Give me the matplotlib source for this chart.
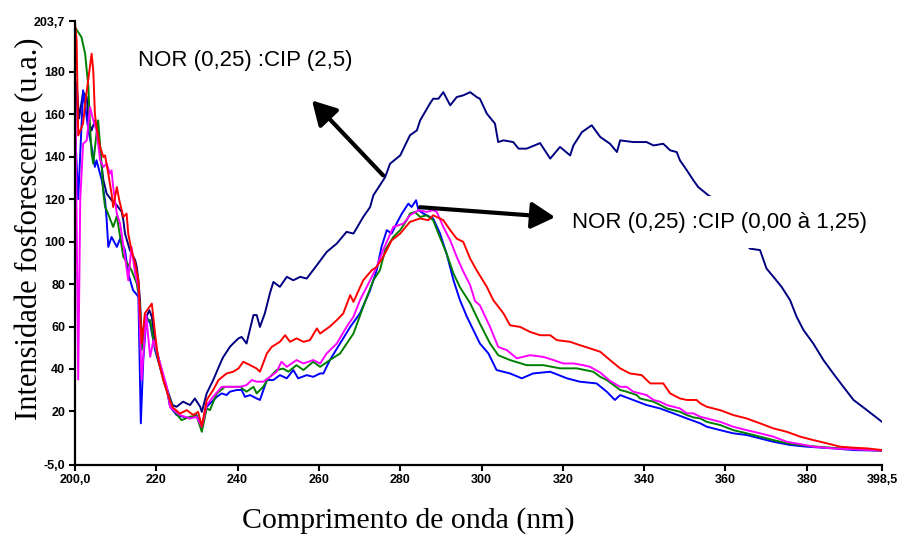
import matplotlib.pyplot as plt

# wavelength (nm) / intensity pairs for each NOR:CIP mixture
nm_navy = [200.0, 200.4, 201.0, 202.0, 202.9, 203.3, 204.1, 204.9, 205.7, 206.2, 207.0, 207.8,
           209.0, 210.3, 211.5, 211.9, 212.3, 213.5, 214.8, 215.2, 215.6, 216.0, 216.4, 217.2,
           218.3, 218.9, 219.7, 220.5, 221.7, 223.0, 224.0, 225.0, 226.6, 228.3, 229.5, 230.8,
           231.2, 232.4, 234.0, 236.1, 236.5, 238.1, 238.9, 240.2, 241.0, 242.2, 243.9, 244.7,
           245.5, 246.7, 248.0, 248.8, 250.4, 252.1, 253.7, 255.4, 257.0, 259.5, 261.9, 264.4,
           266.8, 268.5, 270.9, 272.6, 273.4, 275.0, 275.8, 276.3, 277.5, 280.0, 282.4, 284.1,
           284.9, 287.3, 288.1, 289.4, 290.6, 292.3, 293.9, 295.5, 297.2, 298.8, 299.6, 301.3,
           303.3, 304.1, 305.4, 307.8, 309.1, 311.1, 314.4, 316.9, 319.3, 321.8, 322.6, 324.7,
           327.1, 329.2, 331.6, 333.3, 334.1, 337.3, 340.6, 342.3, 344.7, 346.4, 348.0, 348.8,
           350.5, 352.1, 353.3, 355.8, 357.4, 360.0, 363.0, 366.0, 368.5, 370.1, 371.8, 373.8,
           375.9, 377.5, 379.2, 381.6, 384.1, 386.5, 389.0, 391.5, 394.8, 398.5]
int_navy = [150, 175, 158, 170.4, 168.1, 157.1, 152.4, 157.1, 150.9, 141.4, 128.9, 122.6,
            119.5, 117.1, 114.0, 110.1, 103.8, 96.0, 91.3, 88.1, 81.8, 72.4, 53.6, 63.0,
            67.7, 64.6, 52.0, 45.7, 36.3, 28.5, 23.0, 22.2, 24.6, 23.0, 26.1, 22.2,
            19.8, 28.5, 34.8, 44.2, 45.7, 50.4, 52.0, 54.4, 55.1, 52.0, 65.4, 65.4,
            59.8, 66.2, 76.0, 81.0, 78.7, 83.4, 81.8, 83.4, 82.6, 88.9, 95.1, 99.1,
            104.6, 103.8, 111.6, 116.3, 121.8, 126.5, 128.9, 130.4, 136.7, 140.6, 150.1, 152.4,
            157.1, 165.0, 167.3, 167.3, 170.4, 164.2, 168.1, 168.9, 170.4, 168.1, 167.3, 160.3,
            155.6, 146.9, 147.7, 146.9, 143.8, 143.8, 146.4, 139.1, 144.6, 140.6, 145.3, 151.6,
            154.8, 149.3, 146.1, 142.2, 147.7, 146.9, 146.9, 145.3, 146.1, 143.0, 142.2, 138.3,
            133.6, 128.9, 125.7, 121.8, 120.0, 112.0, 104.0, 96.7, 96.0, 87.3, 83.4, 78.7,
            72.4, 64.6, 58.3, 52.0, 44.2, 37.9, 31.6, 25.4, 20.6, 15.1]

nm_blue = [200.0, 200.8, 202.0, 203.3, 204.1, 204.9, 205.3, 206.6, 207.4, 207.8, 208.2, 209.0,
           210.3, 211.1, 212.3, 213.1, 214.3, 215.6, 216.2, 216.8, 217.6, 218.5, 219.7, 220.9,
           222.6, 223.4, 225.0, 226.6, 228.3, 229.9, 231.2, 232.4, 234.9, 236.1, 237.3, 238.1,
           239.8, 241.0, 241.8, 243.1, 244.7, 245.5, 247.2, 248.8, 250.4, 252.1, 253.7, 254.9,
           257.0, 258.6, 260.3, 261.1, 262.7, 265.2, 267.7, 270.1, 272.6, 274.2, 275.4, 276.7,
           277.9, 279.1, 280.4, 282.0, 282.8, 283.9, 284.5, 285.7, 288.1, 289.8, 291.4, 293.1,
           294.7, 296.4, 298.0, 299.6, 301.7, 303.7, 307.0, 309.9, 312.7, 316.9, 321.0, 324.2,
           328.3, 330.8, 332.8, 334.1, 337.3, 340.6, 343.9, 347.2, 350.5, 353.8, 355.4, 358.7,
           361.9, 365.2, 368.5, 371.8, 375.9, 380.0, 386.5, 391.5, 398.5]
int_blue = [154, 120, 171.3, 152.4, 144.6, 135.2, 138.3, 128.9, 119.5, 110.1, 97.5, 102.2,
            97.5, 101.4, 96.0, 85.0, 77.1, 74.0, 14.4, 44.2, 64.6, 61.4, 48.9, 41.0,
            30.1, 22.2, 18.3, 17.5, 16.7, 18.3, 12.8, 22.2, 26.9, 28.5, 27.7, 29.3,
            30.1, 30.1, 26.9, 27.7, 26.1, 25.4, 34.8, 34.8, 37.1, 35.6, 39.5, 35.6,
            37.1, 36.3, 37.9, 37.9, 44.2, 52.0, 59.8, 66.2, 77.1, 86.5, 97.5, 105.4,
            103.8, 108.5, 113.2, 117.9, 116.3, 119.5, 114.8, 113.2, 110.9, 103.8, 94.4, 81.8,
            72.4, 64.6, 58.3, 52.0, 47.3, 39.5, 37.9, 35.6, 37.9, 38.7, 35.6, 34.0,
            33.2, 29.3, 25.4, 27.7, 25.4, 23.0, 21.4, 19.1, 16.7, 14.4, 12.8, 11.2,
            9.7, 8.9, 7.3, 5.7, 4.2, 3.4, 2.6, 1.8, 1.5]

nm_green = [200.0, 201.6, 202.5, 203.3, 203.7, 204.1, 204.5, 205.3, 205.7, 206.6, 207.0, 207.4,
            207.8, 209.4, 210.3, 211.9, 212.7, 213.9, 215.2, 216.0, 216.4, 217.5, 218.5, 219.3,
            220.5, 222.0, 223.4, 224.5, 226.2, 228.3, 229.9, 231.2, 232.4, 233.2, 234.9, 236.9,
            238.5, 240.6, 242.2, 243.9, 244.7, 246.3, 247.6, 249.6, 251.2, 252.5, 254.5, 256.2,
            258.6, 260.3, 262.7, 265.2, 268.5, 270.9, 273.4, 275.0, 276.3, 278.3, 280.0, 281.6,
            282.4, 283.6, 284.9, 286.5, 288.1, 289.4, 291.4, 293.1, 294.7, 297.2, 299.6, 302.1,
            304.1, 307.0, 311.1, 315.2, 319.3, 323.4, 327.5, 329.2, 330.8, 332.5, 334.1, 335.7,
            338.2, 339.0, 342.3, 345.6, 348.8, 350.5, 352.1, 353.8, 355.4, 358.7, 361.9, 365.2,
            368.5, 371.8, 375.1, 378.4, 382.5, 388.2, 393.1, 398.5]
int_green = [201, 196.3, 188.5, 172.8, 154.0, 141.4, 136.7, 150.9, 157.1, 135.2, 122.6, 116.3,
             114.8, 106.9, 112.0, 92.8, 90.4, 86.5, 80.3, 70.0, 48.9, 63.0, 63.0, 53.6,
             44.2, 33.0, 25.4, 20.0, 15.9, 17.5, 18.0, 10.4, 21.4, 20.6, 28.5, 31.6,
             31.6, 31.6, 29.3, 31.6, 28.5, 31.6, 35.6, 39.5, 40.2, 38.7, 41.8, 39.5,
             43.4, 41.0, 44.2, 47.3, 56.7, 69.3, 81.8, 86.5, 96.0, 102.2, 105.4, 110.1,
             113.2, 114.0, 111.6, 112.4, 110.1, 103.8, 94.4, 85.0, 78.5, 71.0, 61.4, 52.0,
             46.5, 44.2, 41.8, 41.8, 40.3, 40.3, 38.7, 36.3, 34.8, 32.4, 30.1, 29.3,
             27.7, 26.1, 24.6, 21.4, 19.8, 18.3, 17.2, 16.7, 15.1, 13.6, 11.2, 9.7,
             8.1, 6.5, 5.0, 4.2, 3.4, 2.6, 2.2, 1.5]

nm_magenta = [200.0, 200.8, 201.3, 202.0, 202.9, 203.7, 204.5, 205.3, 206.2, 207.0, 207.8, 208.6,
              209.0, 209.4, 210.3, 211.1, 212.3, 213.1, 213.9, 214.8, 215.6, 216.4, 217.5, 218.5,
              219.3, 220.5, 222.6, 223.4, 225.8, 228.3, 229.9, 231.2, 232.4, 234.0, 236.1, 238.1,
              240.6, 242.2, 243.5, 244.7, 246.3, 248.0, 249.6, 250.8, 252.1, 254.5, 256.2, 258.6,
              260.3, 261.9, 264.4, 266.8, 268.5, 270.1, 272.6, 274.2, 275.8, 278.3, 280.8, 282.4,
              284.5, 286.5, 288.1, 289.0, 290.6, 292.3, 293.9, 295.5, 297.2, 298.4, 299.6, 302.1,
              304.1, 306.2, 308.7, 311.9, 315.2, 317.7, 320.1, 322.6, 325.0, 326.7, 329.2, 331.6,
              334.1, 335.7, 337.3, 339.0, 340.6, 342.3, 343.9, 345.6, 347.2, 348.8, 350.5, 352.1,
              353.8, 355.4, 358.7, 361.9, 365.2, 368.5, 371.8, 375.1, 378.4, 381.6, 386.5, 391.5,
              398.5]
int_magenta = [190, 35, 120, 146.1, 147.7, 163.4, 157.1, 152.4, 138.3, 135.2, 136.7, 132.0,
               133.6, 125.7, 113.2, 108.5, 92.8, 81.8, 97.5, 85.0, 78.7, 34.8, 65.4, 45.7,
               53.6, 45.7, 31.6, 22.0, 18.3, 16.7, 17.5, 12.8, 23.0, 26.9, 31.6, 31.6,
               31.6, 32.4, 34.8, 34.0, 34.0, 36.3, 38.7, 43.4, 41.0, 44.2, 42.6, 44.2,
               42.6, 47.3, 52.0, 59.8, 64.6, 72.4, 81.8, 88.1, 96.0, 106.9, 108.5, 112.4,
               114.8, 114.0, 114.8, 114.0, 106.9, 100.6, 92.8, 86.0, 79.5, 72.0, 70.0, 59.8,
               50.4, 48.9, 45.0, 46.5, 45.7, 44.2, 42.6, 42.6, 41.8, 41.0, 38.3, 34.4,
               31.6, 31.6, 29.3, 28.5, 27.7, 25.4, 24.6, 23.0, 22.2, 21.4, 19.1, 19.1,
               17.5, 16.7, 15.1, 12.8, 11.2, 9.7, 8.1, 5.7, 4.6, 3.4, 2.6, 2.2,
               1.5]

nm_red = [200.0, 200.4, 200.8, 202.0, 202.5, 204.1, 204.5, 204.9, 205.3, 206.2, 207.0, 207.4,
          208.2, 209.0, 209.4, 210.3, 210.9, 211.9, 212.7, 213.1, 213.9, 214.8, 215.6, 216.4,
          217.2, 218.9, 219.7, 220.5, 221.7, 223.0, 224.0, 225.8, 227.5, 229.1, 230.3, 231.2,
          232.4, 234.0, 235.3, 237.3, 238.9, 240.2, 241.4, 243.1, 244.7, 245.5, 247.2, 248.4,
          250.4, 251.7, 252.9, 254.5, 256.2, 257.8, 259.5, 260.3, 262.7, 264.4, 266.0, 267.7,
          268.5, 270.9, 273.0, 274.2, 275.8, 277.9, 280.0, 282.4, 284.9, 286.9, 288.1, 290.6,
          292.3, 293.9, 295.5, 297.2, 298.8, 301.3, 302.9, 305.4, 307.0, 309.5, 311.9, 314.4,
          316.9, 318.5, 321.8, 324.2, 326.7, 329.2, 331.6, 334.1, 336.5, 339.4, 341.5, 344.7,
          346.4, 348.8, 350.5, 352.9, 353.8, 355.4, 358.7, 361.9, 365.2, 368.5, 371.8, 375.1,
          378.4, 381.6, 384.9, 388.2, 391.5, 394.8, 398.5]
int_red = [203, 195, 150, 155.6, 165, 188.5, 180.6, 160.3, 153.9, 144.5, 139.8, 140.6,
           132.0, 122.6, 116.3, 125.7, 119.5, 111.6, 113.2, 103.8, 96.0, 89.7, 81.8, 52.0,
           66.2, 70.8, 56.7, 44.2, 35.0, 27.0, 22.0, 19.0, 20.6, 18.3, 19.8, 13.0,
           25.4, 30.1, 34.8, 37.9, 38.7, 40.2, 43.4, 41.8, 40.2, 38.7, 47.3, 50.4,
           52.8, 55.9, 52.8, 54.4, 52.8, 53.6, 59.1, 56.7, 60.0, 63.0, 66.2, 74.8,
           71.6, 81.8, 86.5, 88.1, 92.8, 100.6, 103.8, 109.3, 110.9, 110.1, 112.4, 110.1,
           105.4, 101.4, 99.9, 92.0, 86.5, 78.7, 72.4, 66.2, 60.6, 59.8, 57.5, 55.9,
           55.9, 53.6, 52.8, 51.2, 49.7, 48.1, 44.2, 40.3, 37.9, 37.1, 33.2, 33.2,
           28.5, 26.1, 25.4, 25.4, 23.8, 22.2, 20.6, 18.3, 16.7, 14.4, 12.0, 10.4,
           8.1, 6.5, 5.0, 3.4, 2.9, 2.6, 1.8]

xticks = [200.0, 220, 240, 260, 280, 300, 320, 340, 360, 380, 398.5]
xtick_labels = ["200,0", "220", "240", "260", "280", "300", "320", "340", "360", "380", "398,5"]
yticks = [-5.0, 20, 40, 60, 80, 100, 120, 140, 160, 180, 203.7]
ytick_labels = ["-5,0", "20", "40", "60", "80", "100", "120", "140", "160", "180", "203,7"]

fig = plt.figure(figsize=(9.01, 5.37), dpi=100)
ax = fig.add_axes([0.0832, 0.135, 0.8957, 0.825])

lw = 1.4
ax.plot(nm_navy, int_navy, color="#000080", lw=lw)
ax.plot(nm_blue, int_blue, color="#0000ff", lw=lw)
ax.plot(nm_green, int_green, color="#008000", lw=lw)
ax.plot(nm_magenta, int_magenta, color="#ff00ff", lw=lw)
ax.plot(nm_red, int_red, color="#ff0000", lw=lw)

ax.set_xlim(200.0, 398.5)
ax.set_ylim(-5.0, 203.7)
ax.set_xticks(xticks)
ax.set_xticklabels(xtick_labels)
ax.set_yticks(yticks)
ax.set_yticklabels(ytick_labels)

for side in ["top", "right"]:
    ax.spines[side].set_visible(False)
for side in ["left", "bottom"]:
    ax.spines[side].set_linewidth(1.6)
ax.tick_params(direction="out", length=4, width=1.5, labelsize=9, pad=3)
for lab in ax.get_xticklabels() + ax.get_yticklabels():
    lab.set_fontfamily("Liberation Sans")
    lab.set_fontweight("bold")

fig.text(0.453, 0.030, "Comprimento de onda (nm)", family="Liberation Serif",
         fontsize=21.5, ha="center", va="center")
fig.text(0.0333, 0.5736, "Intensidade fosforescente (u.a.)", family="Liberation Serif",
         fontsize=22, ha="center", va="center", rotation=90)

# labels for the two groups of curves
ax.text(215.5, 185.4, "NOR (0,25) :CIP (2,5)", family="Liberation Sans",
        fontsize=16, va="center", ha="left", zorder=4)
ax.text(322.3, 109.1, "NOR (0,25) :CIP (0,00 à 1,25)", family="Liberation Sans",
        fontsize=16, va="center", ha="left", zorder=4, clip_on=False,
        bbox=dict(facecolor="white", edgecolor="none", pad=11))

arrow = dict(arrowstyle="-|>,head_length=0.8,head_width=0.45", color="black",
             lw=3, mutation_scale=18, shrinkA=0, shrinkB=0)
ax.annotate("", xy=(258.3, 166.5), xytext=(275.8, 131.2), arrowprops=arrow, zorder=5)
ax.annotate("", xy=(318.1, 111.5), xytext=(284.9, 116.2), arrowprops=arrow, zorder=5)

fig.savefig("out.png", dpi=100)
